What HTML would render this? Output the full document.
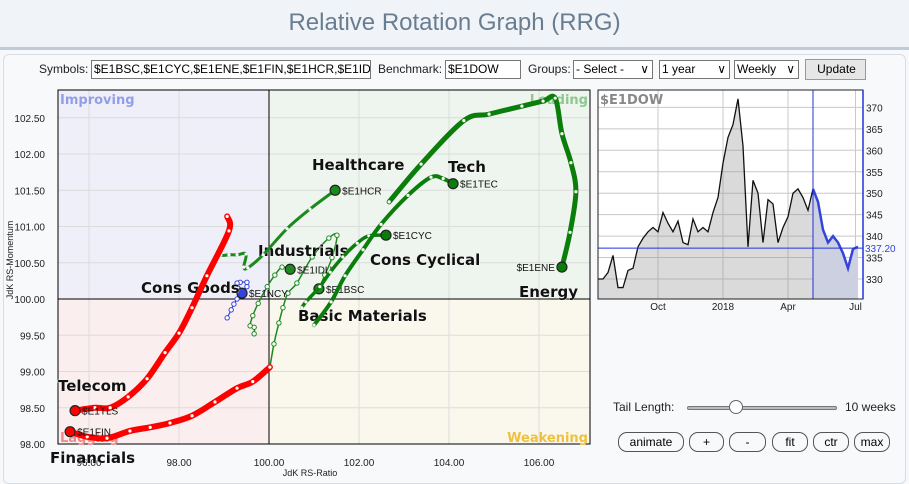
<!DOCTYPE html>
<html><head><meta charset="utf-8">
<style>
*{box-sizing:border-box}
body{margin:0;width:909px;height:482px;overflow:hidden;background:#f6f8fb;font-family:"Liberation Sans",sans-serif;position:relative}
#hdr{position:absolute;left:0;top:0;width:909px;height:50px;background:#f0f4f8;border-bottom:3px solid #bfcbd6}
#title{position:absolute;left:0;width:909px;top:9px;text-align:center;font-size:24px;color:#6a7d90}
#panel{position:absolute;left:3px;top:54px;width:903px;height:430px;border:1px solid #d8dde3;border-radius:6px;background:#f7f9fb}
.ctl{position:absolute;top:60px;font-size:12px;color:#222;height:19px;line-height:19px}
.inp{position:absolute;top:60px;height:19px;border:1px solid #777;background:#fff;font-size:12px;line-height:17px;padding-left:2px;white-space:nowrap;overflow:hidden}
.btn{position:absolute;border:1px solid #555;border-radius:9px;background:#f7f9fb;font-size:12px;text-align:center;height:20px;line-height:18px;top:432px}
</style></head><body>
<div id="hdr"><div id="title">Relative Rotation Graph (RRG)</div></div>
<div id="panel"></div>
<div class="ctl" style="left:39px">Symbols:</div>
<div class="inp" style="left:91px;width:280px">$E1BSC,$E1CYC,$E1ENE,$E1FIN,$E1HCR,$E1ID</div>
<div class="ctl" style="left:378px">Benchmark:</div>
<div class="inp" style="left:445px;width:76px">$E1DOW</div>
<div class="ctl" style="left:528px">Groups:</div>
<div class="inp" style="left:573px;width:80px">- Select - <span style="position:absolute;right:3px">&#8744;</span></div>
<div class="inp" style="left:659px;width:71px">1 year<span style="position:absolute;right:3px">&#8744;</span></div>
<div class="inp" style="left:734px;width:65px">Weekly<span style="position:absolute;right:3px">&#8744;</span></div>
<div class="inp" style="left:805px;width:61px;top:59px;height:21px;background:#e6e6e6;border-color:#999;text-align:center;line-height:19px">Update</div>

<svg id="svg" width="909" height="482" style="position:absolute;left:0;top:0" xmlns="http://www.w3.org/2000/svg"></svg>

<div class="ctl" style="left:613px;top:398px">Tail Length:</div>
<div style="position:absolute;left:687px;top:406px;width:150px;height:4px;border:1px solid #777;border-radius:2px;background:#bbb"></div>
<div style="position:absolute;left:729px;top:400px;width:14px;height:14px;border:1px solid #666;border-radius:50%;background:#fff"></div>
<div class="ctl" style="left:845px;top:398px">10 weeks</div>
<div class="btn" style="left:618px;width:66px">animate</div>
<div class="btn" style="left:689px;width:35px">+</div>
<div class="btn" style="left:729px;width:37px">-</div>
<div class="btn" style="left:772px;width:36px">fit</div>
<div class="btn" style="left:813px;width:36px">ctr</div>
<div class="btn" style="left:854px;width:36px">max</div>

<script>
const xTicks=[96,98,100,102,104,106];
const yTicks=[98,98.5,99,99.5,100,100.5,101,101.5,102,102.5];
const finX=[100.02,99.64,99.29,98.80,98.29,97.80,97.36,96.91,96.40,95.96,95.58];
const finY=[99.06,98.86,98.77,98.58,98.39,98.29,98.23,98.18,98.08,98.10,98.17];
const tlsX=[99.07,99.11,98.62,98.29,98.00,97.69,97.29,96.87,96.47,96.13,95.69];
const tlsY=[101.14,100.94,100.32,99.88,99.53,99.26,98.90,98.65,98.50,98.50,98.46];
const ncyX=[99.07,99.16,99.22,99.29,99.36,99.51,99.51,99.36,99.29,99.40,99.40];
const ncyY=[99.74,99.85,99.93,100.00,100.08,100.17,100.23,100.23,100.22,100.12,100.08];
const iduX=[99.67,99.67,99.58,99.64,99.76,99.96,100.13,100.29,100.47];
const iduY=[99.52,99.61,99.63,99.77,99.94,100.17,100.33,100.44,100.41];
const hcrX=[98.91,98.93,99.11,99.29,99.49,99.44,99.53,99.87,100.40,100.91,101.47];
const hcrY=[100.74,100.61,100.61,100.61,100.62,100.44,100.43,100.61,100.97,101.24,101.50];
const tecX=[101.00,101.38,101.69,102.09,102.49,103.09,103.60,103.87,104.09];
const tecY=[99.64,99.96,100.32,100.68,101.03,101.43,101.68,101.66,101.59];
const cycX=[100.73,100.82,101.13,101.36,101.64,101.96,102.22,102.60];
const cycY=[99.88,99.96,100.17,100.37,100.58,100.77,100.87,100.88];
const bscX=[100.02,100.11,100.22,100.31,100.42,100.62,100.96,101.33,101.51,101.40,101.24,101.11];
const bscY=[99.06,99.38,99.67,99.88,100.08,100.22,100.58,100.84,100.88,100.57,100.33,100.14];
const eneX=[102.67,103.38,104.33,104.89,105.62,106.09,106.36,106.51,106.71,106.82,106.69,106.51];
const eneY=[101.34,101.86,102.46,102.55,102.66,102.73,102.77,102.28,101.88,101.48,100.92,100.44];
const dowVals=[330,330,331.5,335.5,328,328,332,332.5,337.5,339.5,341,342,341,345.5,343,341,343.5,338.5,338,344,341,342,341,345.5,349,357,363,366,372,361,337.5,353,350,338.5,348.5,347.5,338.5,342,344.5,350,351,349,346,351,348,341.5,338.5,340,338.5,336,332.5,337,337.5];
const dowTicks=[330,335,340,345,350,355,360,365,370];
const dowMonths=["Oct","2018","Apr","Jul"];
const dowMonthIdx=[12,25,38,51.5];
const dowLast=337.2;
const dowSplit=43;

const NS="http://www.w3.org/2000/svg",svg=document.getElementById('svg');
function mk(t,a,p){const e=document.createElementNS(NS,t);for(const k in a)e.setAttribute(k,a[k]);(p||svg).appendChild(e);return e;}
const L=58,R=590,T=90,B=444;
const sx=v=>269+(v-100)*45, sy=v=>299-(v-100)*72.5;
function smooth(P){let d='M'+P[0][0]+','+P[0][1];for(let i=0;i<P.length-1;i++){const p0=P[i-1]||P[i],p1=P[i],p2=P[i+1],p3=P[i+2]||p2;
 const c1=[p1[0]+(p2[0]-p0[0])/6,p1[1]+(p2[1]-p0[1])/6],c2=[p2[0]-(p3[0]-p1[0])/6,p2[1]-(p3[1]-p1[1])/6];
 d+=' C'+c1[0]+','+c1[1]+' '+c2[0]+','+c2[1]+' '+p2[0]+','+p2[1];}return d;}
let q;
q=mk('rect',{x:L,y:T,width:sx(100)-L,height:sy(100)-T,fill:'#efeff9'});
q=mk('rect',{x:sx(100),y:T,width:R-sx(100),height:sy(100)-T,fill:'#eef5ee'});
q=mk('rect',{x:L,y:sy(100),width:sx(100)-L,height:B-sy(100),fill:'#faeeee'});
q=mk('rect',{x:sx(100),y:sy(100),width:R-sx(100),height:B-sy(100),fill:'#faf8ec'});
xTicks.forEach(v=>{let g=mk('line',{x1:sx(v),x2:sx(v),y1:T,y2:B,stroke:'#dcdcdc'});
 let t=mk('text',{x:sx(v),y:466,'text-anchor':'middle','font-size':10,fill:'#222'});t.textContent=v.toFixed(2);});
yTicks.forEach(v=>{let g=mk('line',{x1:L,x2:R,y1:sy(v),y2:sy(v),stroke:'#dcdcdc'});
 let t=mk('text',{x:45,y:sy(v)+4,'text-anchor':'end','font-size':10,fill:'#222'});t.textContent=v.toFixed(2);});
mk('line',{x1:sx(100),x2:sx(100),y1:T,y2:B,stroke:'#000'});
mk('line',{x1:L,x2:R,y1:sy(100),y2:sy(100),stroke:'#000'});
let fr=mk('rect',{x:L,y:T,width:R-L,height:B-T,fill:'none',stroke:'#000'});
function qt(txt,x,y,anc,col,n){let t=mk('text',{x:x,y:y,'text-anchor':anc,'font-size':13,'font-weight':'bold',fill:col,'font-family':'DejaVu Sans,sans-serif'});t.textContent=txt;}
qt('Improving',60,104,'start','#949ee8','improving-label');qt('Leading',588,104,'end','#8dc88d','leading-label');
qt('Lagging',60,442,'start','#f08a8a','lagging-label');qt('Weakening',588,442,'end','#f0c040','weakening-label');
let xt=mk('text',{x:310,y:476,'text-anchor':'middle','font-size':9,fill:'#222'});xt.textContent='JdK RS-Ratio';
let yt=mk('text',{x:13,y:260,'text-anchor':'middle','font-size':9,fill:'#222',transform:'rotate(-90 13 260)'});yt.textContent='JdK RS-Momentum';

function trail(xs,ys,col,w,name,sym,lx,ly,anc){
 const g=mk('g',{});
 const P=xs.map((v,i)=>[sx(v),sy(ys[i])]);
 mk('path',{d:smooth(P),fill:'none',stroke:col,'stroke-width':w,'stroke-linejoin':'round','stroke-linecap':'round'},g);
 for(let i=0;i<xs.length-1;i++){let c=mk('circle',{cx:P[i][0],cy:P[i][1],r:w>2.5?1.6:2.2,fill:'#fff',stroke:w>2.5?'none':col,'stroke-width':1},g);}
 const n=xs.length-1;
 let h=mk('circle',{cx:P[n][0],cy:P[n][1],r:5,fill:col,stroke:'#222','stroke-width':1.2},g);
 let t=mk('text',{x:P[n][0]+(anc==='end'?-7:7),y:P[n][1]+4,'text-anchor':anc||'start','font-size':10,fill:'#111'},g);t.textContent=sym;
 let b=mk('text',{x:lx,y:ly,'font-size':15,'font-weight':'bold',fill:'#111','font-family':'DejaVu Sans,sans-serif',stroke:'#fff','stroke-width':0.6,'paint-order':'stroke'},g);b.textContent=name.replace(/-/g,' ').replace(/\b\w/g,c=>c.toUpperCase());
}
trail(bscX,bscY,'#1e8a1e',1.5,'basic-materials','$E1BSC',298,321);
trail(iduX,iduY,'#1e8a1e',1.5,'industrials','$E1IDU',258,256);
trail(ncyX,ncyY,'#3344dd',1.2,'cons-goods','$E1NCY',141,293);
trail(hcrX,hcrY,'#1a8a1a',3,'healthcare','$E1HCR',312,170);
trail(cycX,cycY,'#0a7d0a',3.5,'cons-cyclical','$E1CYC',370,265);
trail(tecX,tecY,'#0a7d0a',4,'tech','$E1TEC',448,172);
trail(eneX,eneY,'#0a7d0a',5,'energy','$E1ENE',519,297,'end');
trail(finX,finY,'#ff0000',6,'financials','$E1FIN',50,463);
trail(tlsX,tlsY,'#ff0000',6,'telecom','$E1TLS',58,391);

// benchmark chart
const ML=598,MR=863,MT=90,MB=299;
const mx=i=>ML+i*5, my=v=>279-(v-330)*4.29;
let mb=mk('rect',{x:ML,y:MT,width:MR-ML,height:MB-MT,fill:'#fff'});
dowTicks.forEach(v=>{mk('line',{x1:ML,x2:MR,y1:my(v),y2:my(v),stroke:'#c8c8c8'});let t=mk('text',{x:866,y:my(v)+4,'font-size':10,fill:'#222'});t.textContent=v;});
dowMonths.forEach((m,i)=>{mk('line',{x1:mx(dowMonthIdx[i]),x2:mx(dowMonthIdx[i]),y1:MT,y2:MB,stroke:'#c8c8c8'});let t=mk('text',{x:mx(dowMonthIdx[i]),y:310,'text-anchor':'middle','font-size':10,fill:'#222'});t.textContent=m;});
let ap='M'+mx(0)+','+MB+' '+dowVals.slice(0,dowSplit+1).map((v,i)=>'L'+mx(i)+','+my(v)).join(' ')+' L'+mx(dowSplit)+','+MB+'Z';
let ar=mk('path',{d:ap,fill:'rgba(150,150,150,0.35)'});
let ap2='M'+mx(dowSplit)+','+MB+' '+dowVals.slice(dowSplit).map((v,i)=>'L'+mx(i+dowSplit)+','+my(v)).join(' ')+' L'+mx(dowVals.length-1)+','+MB+' L'+MR+','+MB+'Z';
let ar2=mk('path',{d:ap2,fill:'#cdd0e0'});
let l1=mk('polyline',{points:dowVals.slice(0,dowSplit+1).map((v,i)=>mx(i)+','+my(v)).join(' '),fill:'none',stroke:'#111','stroke-width':1.3});
let l2=mk('polyline',{points:dowVals.slice(dowSplit).map((v,i)=>mx(i+dowSplit)+','+my(v)).join(' '),fill:'none',stroke:'#3344dd','stroke-width':2.5});
mk('line',{x1:mx(dowSplit),x2:mx(dowSplit),y1:MT,y2:MB,stroke:'#2233dd'});
mk('line',{x1:ML,x2:MR,y1:my(dowLast),y2:my(dowLast),stroke:'#2233dd'});
mk('rect',{x:864,y:my(dowLast)-6,width:30,height:12,fill:'#f7f9fb'});
let lt=mk('text',{x:865,y:my(dowLast)+4,'font-size':10,fill:'#3344dd'});lt.textContent=dowLast.toFixed(2);
mk('rect',{x:ML,y:MT,width:MR-ML,height:MB-MT,fill:'none',stroke:'#222'});
mk('line',{x1:MR,x2:MR,y1:MT,y2:MB,stroke:'#2233dd','stroke-width':1.5});
let bt=mk('text',{x:600,y:104,'font-size':13,'font-weight':'bold',fill:'#888','font-family':'DejaVu Sans,sans-serif'});bt.textContent='$E1DOW';
</script>
</body></html>
